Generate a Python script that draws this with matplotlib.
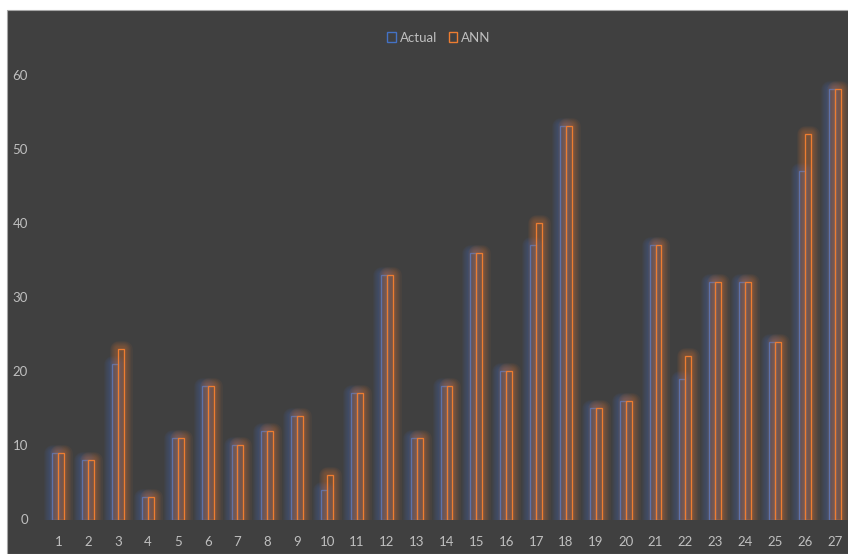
import matplotlib
matplotlib.use('Agg')
import matplotlib.pyplot as plt
import matplotlib.patheffects as pe
from matplotlib.patches import Rectangle, Patch
import numpy as np

plt.rcParams['font.family'] = ['Lato', 'DejaVu Sans']

# sample numbers and the two series
samples = list(range(1, 28))
actual = [9, 8, 21, 3, 11, 18, 10, 12, 14, 4, 17, 33, 11, 18, 36, 20, 37, 53, 15, 16, 37, 19, 32, 32, 24, 47, 58]
ann = [9, 8, 23, 3, 11, 18, 10, 12, 14, 6, 17, 33, 11, 18, 36, 20, 40, 53, 15, 16, 37, 22, 32, 32, 24, 52, 58]

BG = '#404040'
TXT = '#bfbfbf'
BLUE = '#4472C4'
ORANGE = '#ED7D31'


def glow(color):
    # soft halo round each bar, widest stroke first
    fx = [pe.Stroke(linewidth=w, foreground=color, alpha=0.06, joinstyle='round')
          for w in (12, 10, 8.5, 7, 5.5, 4, 2.5)]
    return fx + [pe.Normal()]


fig = plt.figure(figsize=(8.48, 5.54), dpi=100, facecolor='white')
fig.patches.append(Rectangle((7 / 848, 0), 1, 1 - 10 / 554, transform=fig.transFigure,
                             facecolor=BG, edgecolor='#a6a6a6', linewidth=0.8, zorder=-10))

ax = fig.add_axes([43.4 / 848, 34.5 / 554, 806.2 / 848, 445 / 554])
ax.set_facecolor('none')

x = np.array(samples)
b1 = ax.bar(x - 0.1, actual, width=0.2, facecolor='none', edgecolor=BLUE, linewidth=0.9)
b2 = ax.bar(x + 0.1, ann, width=0.2, facecolor='none', edgecolor=ORANGE, linewidth=0.9)
for r in b1:
    r.set_path_effects(glow(BLUE))
for r in b2:
    r.set_path_effects(glow(ORANGE))

ax.set_xlim(0.5, 27.5)
ax.set_ylim(0, 60)
ax.set_xticks(samples)
ax.set_yticks(range(0, 61, 10))
ax.tick_params(axis='both', length=0, colors=TXT, labelsize=9.5)
ax.tick_params(axis='x', pad=12)
ax.tick_params(axis='y', pad=11)
for s in ax.spines.values():
    s.set_visible(False)

handles = [Patch(facecolor='none', edgecolor=BLUE, linewidth=1.0),
           Patch(facecolor='none', edgecolor=ORANGE, linewidth=1.0)]
fig.legend(handles, ['Actual', 'ANN'], loc='center', bbox_to_anchor=(439 / 848, 1 - 37.5 / 554),
           ncol=2, frameon=False, handlelength=0.65, handleheight=0.8, handletextpad=0.3,
           columnspacing=0.9, fontsize=9.5, labelcolor=TXT)

fig.savefig('out.png', dpi=100, facecolor='white')
